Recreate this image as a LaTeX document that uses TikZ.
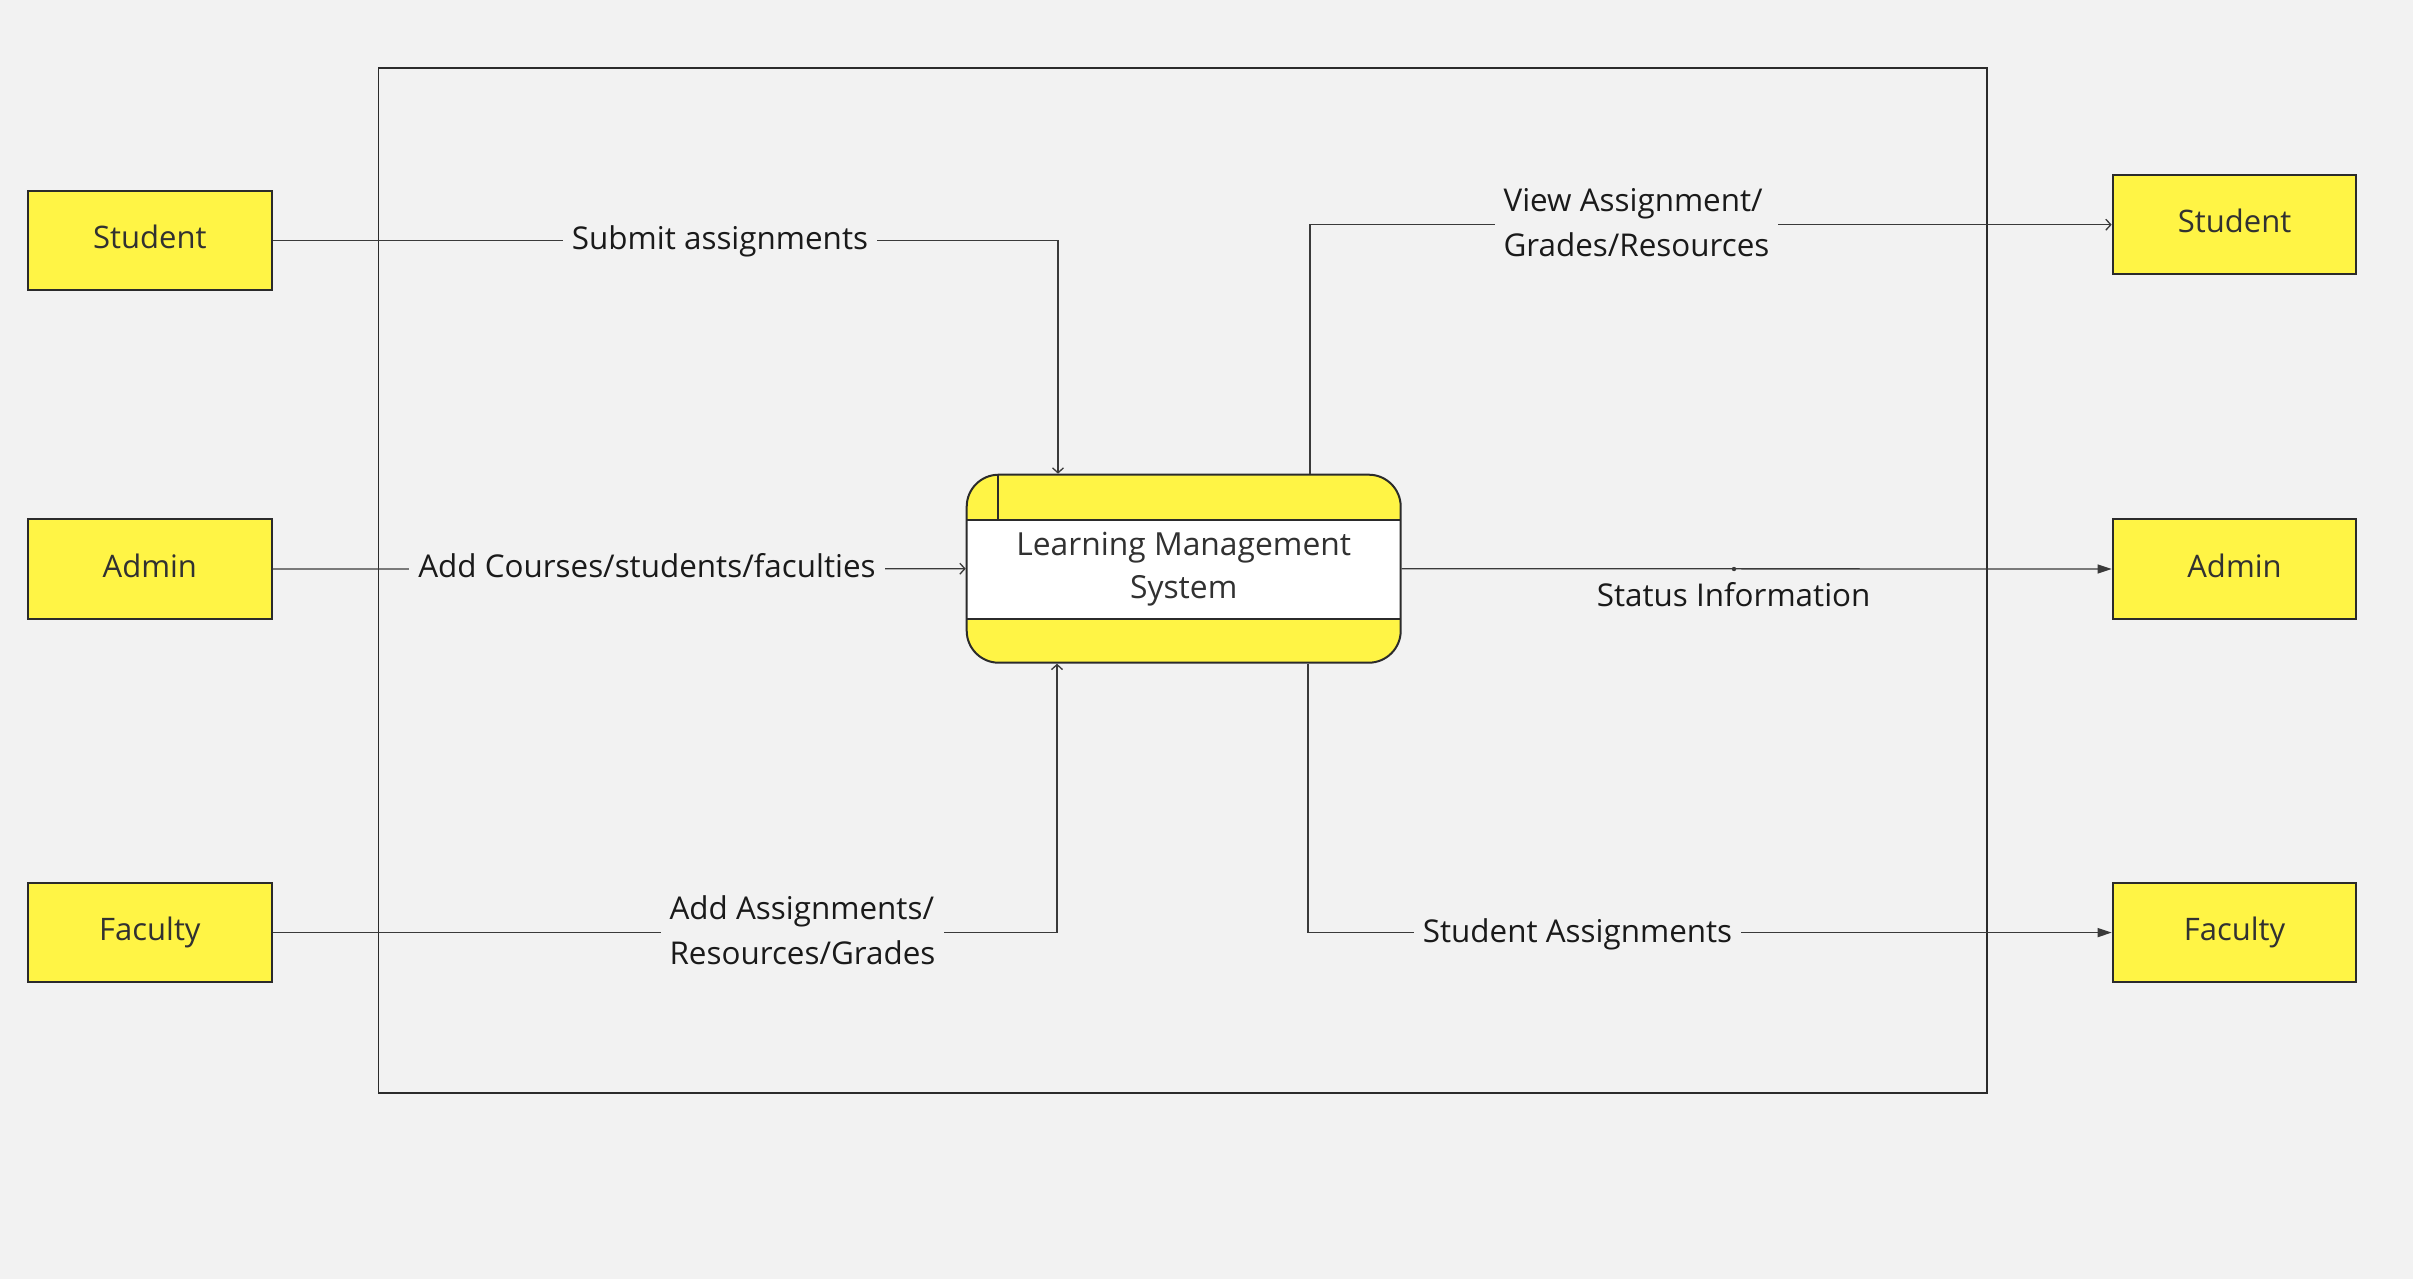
\documentclass[tikz,border=0pt]{standalone}
\usepackage{fontspec}
\setmainfont{Open Sans}
\usetikzlibrary{arrows.meta}
\definecolor{bg}{HTML}{F2F2F2}
\definecolor{stickyyellow}{HTML}{FFF445}
\definecolor{edge}{HTML}{2B2B2B}
\definecolor{wire}{HTML}{3A3A3A}
\definecolor{ink}{HTML}{1A1A1A}
\begin{document}
\begin{tikzpicture}[x=0.5pt,y=-0.5pt,
  entity/.style={draw=edge, line width=1pt, fill=stickyyellow, minimum width=121.85pt,
    minimum height=49.7pt, inner sep=0pt, text height=11.5pt, text depth=3.3pt,
    text=ink!90, font=\fontsize{15.5}{18}\selectfont},
  flow/.style={draw=wire, line width=0.65pt},
  lbl/.style={fill=bg, inner xsep=4.5pt, inner ysep=1pt, text=ink,
    font=\fontsize{15.7}{22.5}\selectfont},
  opentip/.style={-{Straight Barb[length=2.5pt,width=5.5pt]}},
  filltip/.style={-{Triangle[length=7pt,width=4.5pt]}},
  process/.style={draw=edge, line width=1pt, fill=stickyyellow, rounded corners=16pt,
    minimum width=217pt, minimum height=94pt, inner sep=0pt, align=center,
    text=ink!90, font=\fontsize{15.9}{21.5}\selectfont,
    path picture={
      \fill[white, sharp corners] ([yshift=-22.65pt]path picture bounding box.north west) rectangle
                   ([yshift=22pt]path picture bounding box.south east);
      \draw[edge, line width=1pt, sharp corners] ([yshift=-22.65pt]path picture bounding box.north west) --
                   ([yshift=-22.65pt]path picture bounding box.north east);
      \draw[edge, line width=1pt, sharp corners] ([yshift=22pt]path picture bounding box.south west) --
                   ([yshift=22pt]path picture bounding box.south east);
      \draw[edge, line width=0.8pt, sharp corners] ([xshift=15.5pt]path picture bounding box.north west) --
                   ([xshift=15.5pt,yshift=-22.65pt]path picture bounding box.north west);
    }},
]
% background / page
\fill[bg] (0,0) rectangle (2413,1279);
\useasboundingbox (0,0) rectangle (2413,1279);

% system boundary
\node[draw=edge, line width=0.9pt, minimum width=804.1pt, minimum height=512.45pt,
      inner sep=0pt] (boundary) at (1182.6,580.15) {};

% external entities
\node[entity] (sl) at (149.85,240.3) {Student};
\node[entity] (al) at (149.85,569)   {Admin};
\node[entity] (fl) at (149.85,932.6) {Faculty};
\node[entity] (sr) at (2234.5,224.7) {Student};
\node[entity] (ar) at (2234.5,569)   {Admin};
\node[entity] (fr) at (2234.5,932.6) {Faculty};

% process
\node[process] (lms) at (1183.7,568.7) {Learning Management\\System};

% flows
\draw[flow, opentip] (sl.east) -| ([xshift=-62.85pt]lms.north);
\draw[flow, opentip] (al.east) -- (lms.west);
\draw[flow, opentip] (fl.east) -| ([xshift=-63.35pt]lms.south);
\draw[flow, opentip] ([xshift=63.15pt]lms.north) |- (sr.west);
\draw[flow, filltip] (lms.east) -- (ar.west);
\draw[flow, filltip] ([xshift=62.15pt]lms.south) |- (fr.west);

% labels
\node[lbl] (l1) at (720,241) {Submit assignments};
\node[lbl] (l2) at (647,566) {Add Courses/students/faculties};
\node[lbl, align=left] (l3) at (802.5,930.5) {Add Assignments/\\Resources/Grades};
\node[lbl, align=left] (l4) at (1636.5,223) {View Assignment/\\Grades/Resources};
\node[text=ink, font=\fontsize{15.7}{22.5}\selectfont] (l5) at (1733.6,595) {Status Information};
\node[circle, fill=wire, inner sep=0pt, minimum size=2.2pt] (dot) at (1734,569) {};
\node[lbl] (l6) at (1577.5,934) {Student Assignments};
\end{tikzpicture}
\end{document}
